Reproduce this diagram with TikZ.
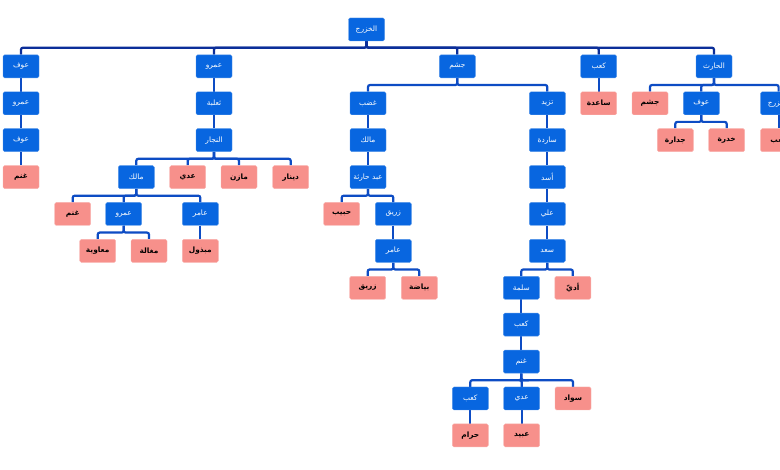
\documentclass[tikz,border=0pt]{standalone}
\usepackage{fontspec}
\newfontfamily\arabicfont[Script=Arabic]{DejaVu Sans}
\TeXXeTstate=1
\usetikzlibrary{backgrounds}
\definecolor{nblue}{HTML}{0866E0}
\definecolor{npink}{HTML}{F7908B}
\definecolor{eblue}{HTML}{0D4CC4}
\definecolor{edark}{HTML}{0B2E99}
\newcommand\AR[1]{\beginR #1\endR}
\tikzset{
  bnode/.style={rectangle, rounded corners=1.5pt, minimum width=36pt, minimum height=23pt, inner sep=0pt,
    fill=nblue, draw=nblue!70!white, line width=0.4pt, text=white, font=\arabicfont\fontsize{7.4}{8}\selectfont},
  pnode/.style={rectangle, rounded corners=1.5pt, minimum width=36pt, minimum height=23pt, inner sep=0pt,
    fill=npink, draw=npink!70!white, line width=0.4pt, text=black, font=\arabicfont\bfseries\fontsize{7.4}{8}\selectfont},
  edge/.style={draw=eblue, line width=2.2pt, rounded corners=2pt},
  topedge/.style={edge, draw=edark}
}
\newcommand\elb[2]{\draw[edge] (#1.south) -- ++(0,6.9) -| (#2.north);}
\newcommand\telb[2]{\draw[topedge] (#1.south) -- ++(0,6.5) -| (#2.north);}
\begin{document}
\begin{tikzpicture}[x=1pt,y=-1pt]
\useasboundingbox (0,0) rectangle (780,470);
\clip (0,0) rectangle (780,470);
% level 0
\node[bnode] (r) at (366.5,29.5) {\AR{الخزرج}};
% branch a
\node[bnode] (a1) at (21,66.4) {\AR{عوف}};
\node[bnode] (a2) at (21,103.3) {\AR{عمرو}};
\node[bnode] (a3) at (21,140.2) {\AR{عوف}};
\node[pnode] (a4) at (21,177.1) {\AR{غنم}};
% branch b
\node[bnode] (b1) at (214,66.4) {\AR{عمرو}};
\node[bnode] (b2) at (214,103.3) {\AR{ثعلبة}};
\node[bnode] (b3) at (214,140.2) {\AR{النجار}};
\node[bnode] (b4) at (136.3,177.1) {\AR{مالك}};
\node[pnode] (b5) at (187.7,177.1) {\AR{عدي}};
\node[pnode] (b6) at (239,177.1) {\AR{مازن}};
\node[pnode] (b7) at (290.7,177.1) {\AR{دينار}};
\node[pnode] (b8) at (72.7,214) {\AR{غنم}};
\node[bnode] (b9) at (123.7,214) {\AR{عمرو}};
\node[bnode] (b10) at (200.3,214) {\AR{عامر}};
\node[pnode] (b11) at (97.7,250.9) {\AR{معاوية}};
\node[pnode] (b12) at (149,250.9) {\AR{مغالة}};
\node[pnode] (b13) at (200.3,250.9) {\AR{مبذول}};
% branch c/d
\node[bnode] (c1) at (457.3,66.4) {\AR{جشم}};
\node[bnode] (c2) at (368,103.3) {\AR{غضب}};
\node[bnode] (c3) at (368,140.2) {\AR{مالك}};
\node[bnode] (c4) at (368,177.1) {\AR{عبد حارثة}};
\node[pnode] (c5) at (341.7,214) {\AR{حبيب}};
\node[bnode] (c6) at (393.3,214) {\AR{زريق}};
\node[bnode] (c7) at (393.3,250.9) {\AR{عامر}};
\node[pnode] (c8) at (367.7,287.8) {\AR{زريق}};
\node[pnode] (c9) at (419.3,287.8) {\AR{بياضة}};
\node[bnode] (d1) at (547.3,103.3) {\AR{تزيد}};
\node[bnode] (d2) at (547.3,140.2) {\AR{ساردة}};
\node[bnode] (d3) at (547.3,177.1) {\AR{أسد}};
\node[bnode] (d4) at (547.3,214) {\AR{علي}};
\node[bnode] (d5) at (547.3,250.9) {\AR{سعد}};
\node[bnode] (d6) at (521.3,287.8) {\AR{سلمة}};
\node[pnode] (d7) at (572.8,287.8) {\AR{أديّ}};
\node[bnode] (d8) at (521.3,324.7) {\AR{كعب}};
\node[bnode] (d9) at (521.3,361.6) {\AR{غنم}};
\node[bnode] (d10) at (470.3,398.5) {\AR{كعب}};
\node[bnode] (d11) at (521.7,398.5) {\AR{عدي}};
\node[pnode] (d12) at (573,398.5) {\AR{سواد}};
\node[pnode] (d13) at (470.3,435.4) {\AR{حرام}};
\node[pnode] (d14) at (521.7,435.4) {\AR{عبيد}};
% branch e
\node[bnode] (e1) at (598.7,66.4) {\AR{كعب}};
\node[pnode] (e2) at (598.7,103.3) {\AR{ساعدة}};
% branch f
\node[bnode] (f1) at (714,66.4) {\AR{الحارث}};
\node[pnode] (f2) at (650,103.3) {\AR{جشم}};
\node[bnode] (f3) at (701.3,103.3) {\AR{عوف}};
\node[bnode] (f4) at (778.6,103.3) {\AR{الخزرج}};
\node[pnode] (f5) at (675.3,140.2) {\AR{جدارة}};
\node[pnode] (f6) at (726.7,140.2) {\AR{خدرة}};
\node[pnode] (f7) at (778.6,140.2) {\AR{كعب}};
% edges (behind nodes)
\begin{scope}[on background layer]
\fill[white] (0,0) rectangle (780,470);
\telb{r}{a1}\telb{r}{b1}\telb{r}{c1}\telb{r}{e1}\telb{r}{f1}
\elb{a1}{a2}\elb{a2}{a3}\elb{a3}{a4}
\elb{b1}{b2}\elb{b2}{b3}
\elb{b3}{b4}\elb{b3}{b5}\elb{b3}{b6}\elb{b3}{b7}
\elb{b4}{b8}\elb{b4}{b9}\elb{b4}{b10}
\elb{b9}{b11}\elb{b9}{b12}\elb{b10}{b13}
\elb{c1}{c2}\elb{c1}{d1}
\elb{c2}{c3}\elb{c3}{c4}\elb{c4}{c5}\elb{c4}{c6}\elb{c6}{c7}\elb{c7}{c8}\elb{c7}{c9}
\elb{d1}{d2}\elb{d2}{d3}\elb{d3}{d4}\elb{d4}{d5}\elb{d5}{d6}\elb{d5}{d7}
\elb{d6}{d8}\elb{d8}{d9}\elb{d9}{d10}\elb{d9}{d11}\elb{d9}{d12}
\elb{d10}{d13}\elb{d11}{d14}
\elb{e1}{e2}
\elb{f1}{f2}\elb{f1}{f3}\elb{f1}{f4}\elb{f3}{f5}\elb{f3}{f6}\elb{f4}{f7}
\end{scope}
\end{tikzpicture}
\end{document}
